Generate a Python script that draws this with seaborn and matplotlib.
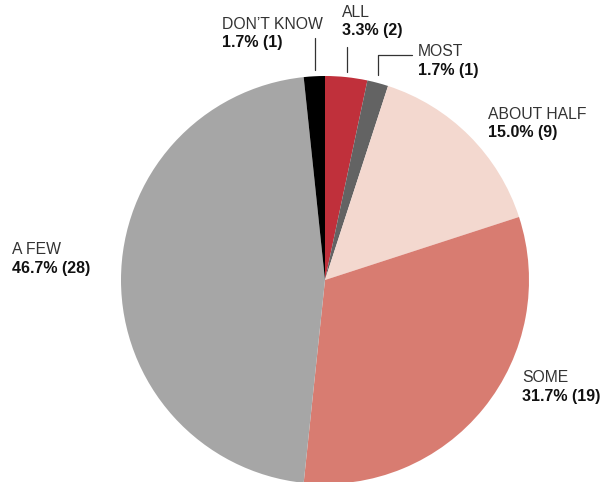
import matplotlib
matplotlib.use("Agg")
import matplotlib.pyplot as plt
import seaborn as sns

# answer categories, clockwise from the top
categories = ["ALL", "MOST", "ABOUT HALF", "SOME", "A FEW", "DON\u2019T KNOW"]
counts = [2, 1, 9, 19, 28, 1]
percents = [3.3, 1.7, 15.0, 31.7, 46.7, 1.7]
colors = ["#c0303b", "#636363", "#f3d8cf", "#d87c71", "#a6a6a6", "#000000"]

sns.set_theme(style="white")
plt.rcParams["font.family"] = ["Liberation Sans", "DejaVu Sans"]

fig = plt.figure(figsize=(6.02, 4.82), dpi=100)
ax = fig.add_axes([0, 0, 1, 1])

# pixel-like coordinates: x from left, y from bottom
cx, cy, r = 325, 202, 204
ax.pie(counts, colors=colors, startangle=90, counterclock=False,
       center=(cx, cy), radius=r, frame=True,
       wedgeprops=dict(linewidth=0))
ax.set_xlim(0, 602)
ax.set_ylim(0, 482)
ax.set_aspect("equal")
ax.axis("off")

# label anchors (top-left of the label block), in the same pixel-like coords
label_pos = {
    "ALL": (342, 477),
    "MOST": (418, 438),
    "ABOUT HALF": (488, 375),
    "SOME": (522, 112),
    "A FEW": (12, 240),
    "DON\u2019T KNOW": (222, 465),
}
for cat, n, p in zip(categories, counts, percents):
    x, y = label_pos[cat]
    ax.text(x, y, cat, fontsize=11.3, color="#333333", va="top", ha="left")
    ax.text(x, y - 18.5, f"{p:.1f}% ({n})", fontsize=11.5, color="#111111",
            fontweight="bold", va="top", ha="left")

# leader lines
ax.plot([315, 315], [444, 412], color="#333333", lw=0.9)
ax.plot([347, 347], [435, 410], color="#333333", lw=0.9)
ax.plot([378, 378, 412], [407, 427, 427], color="#333333", lw=0.9)

fig.savefig("out.png", dpi=100, facecolor="white")
